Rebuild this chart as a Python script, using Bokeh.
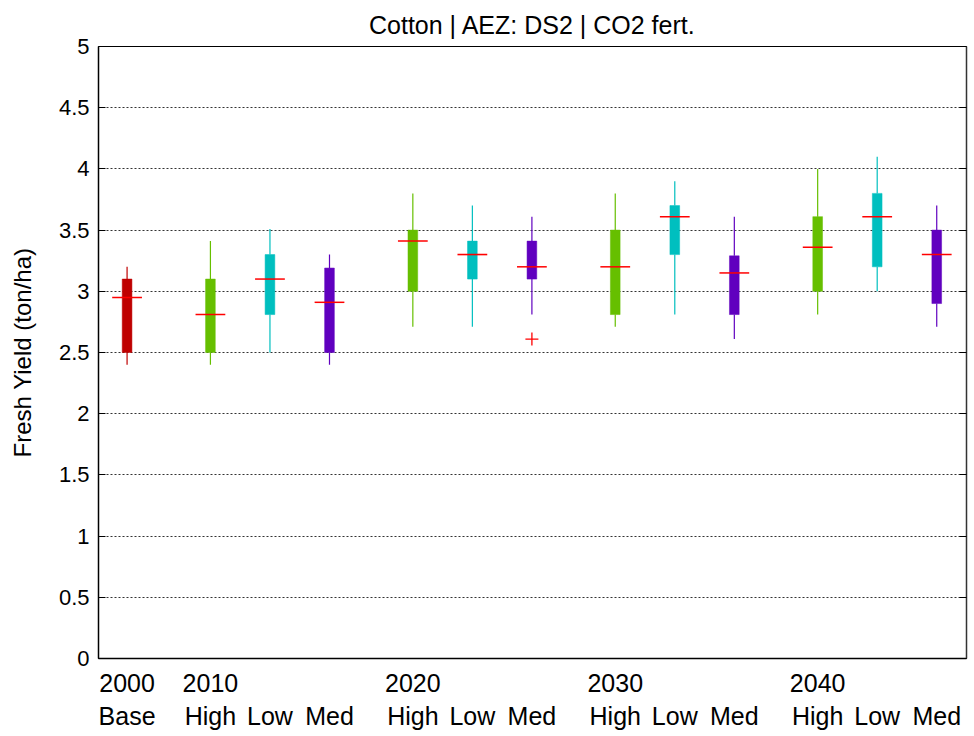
from bokeh.plotting import figure
from bokeh.models import LinearAxis, FixedTicker, Range1d, ColumnDataSource
from bokeh.embed import file_html
from bokeh.resources import INLINE

# ---------------- data ----------------
categories = ["Base", "High", "Low", "Med", "High", "Low", "Med",
              "High", "Low", "Med", "High", "Low", "Med"]
years = ["2000", "2010", "2020", "2030", "2040"]
positions = [1.0, 2.4, 3.4, 4.4, 5.8, 6.8, 7.8, 9.2, 10.2, 11.2, 12.6, 13.6, 14.6]
year_positions = [1.0, 2.4, 5.8, 9.2, 12.6]
whisker_low = [2.40, 2.40, 2.50, 2.40, 2.71, 2.71, 2.81, 2.71, 2.81, 2.61, 2.81, 3.00, 2.71]
q1 = [2.50, 2.50, 2.81, 2.50, 3.00, 3.10, 3.10, 2.81, 3.30, 2.81, 3.00, 3.20, 2.90]
median = [2.95, 2.81, 3.10, 2.91, 3.41, 3.30, 3.20, 3.20, 3.61, 3.15, 3.36, 3.61, 3.30]
q3 = [3.10, 3.10, 3.30, 3.19, 3.50, 3.41, 3.41, 3.50, 3.70, 3.29, 3.61, 3.80, 3.50]
whisker_high = [3.20, 3.41, 3.51, 3.30, 3.80, 3.70, 3.61, 3.80, 3.90, 3.61, 4.00, 4.10, 3.70]
outlier_x = [7.8]
outlier_y = [2.61]
colors = ["#BF0000", "#66BF00", "#00BFBF", "#6000BF", "#66BF00", "#00BFBF", "#6000BF",
          "#66BF00", "#00BFBF", "#6000BF", "#66BF00", "#00BFBF", "#6000BF"]
y_ticks = [0, 0.5, 1, 1.5, 2, 2.5, 3, 3.5, 4, 4.5, 5]
y_tick_labels = ["0", "0.5", "1", "1.5", "2", "2.5", "3", "3.5", "4", "4.5", "5"]

BOX_W = 0.163
MED_HALF = 0.25
FONT = "Liberation Sans"

src = ColumnDataSource(dict(
    x=positions, lo=whisker_low, q1=q1, med=median, q3=q3, hi=whisker_high,
    color=colors,
    mx0=[x - MED_HALF for x in positions], mx1=[x + MED_HALF for x in positions],
))

p = figure(width=974, height=736, output_backend="svg", toolbar_location=None,
           x_range=Range1d(0.52, 15.1), y_range=Range1d(0, 5),
           min_border_left=98, min_border_right=8, min_border_top=46, min_border_bottom=78)

p.background_fill_color = "white"
p.border_fill_color = "white"
p.outline_line_color = "black"
p.outline_line_width = 1

# title
p.title.text = "Cotton | AEZ: DS2 | CO2 fert."
p.title.align = "center"
p.title.text_font = FONT
p.title.text_font_size = "25px"
p.title.text_font_style = "normal"
p.title.text_color = "black"
p.title.standoff = 15

# grids
p.xgrid.visible = False
p.ygrid.ticker = FixedTicker(ticks=y_ticks)
p.ygrid.grid_line_color = "#333333"
p.ygrid.grid_line_dash = "2 2"
p.ygrid.grid_line_width = 1

# y axis (left)
ya = p.yaxis[0]
ya.ticker = FixedTicker(ticks=y_ticks)
ya.major_label_overrides = {t: l for t, l in zip(y_ticks, y_tick_labels)}
ya.major_tick_in = 7
ya.major_tick_out = 0
ya.minor_tick_in = 0
ya.minor_tick_out = 0
ya.major_label_standoff = 9
ya.major_label_text_font = FONT
ya.major_label_text_font_size = "22px"
ya.major_label_text_color = "black"
ya.axis_line_color = "black"
ya.axis_line_width = 1.5
ya.axis_label = "Fresh Yield (ton/ha)"
ya.axis_label_text_font = FONT
ya.axis_label_text_font_size = "24px"
ya.axis_label_text_font_style = "normal"
ya.axis_label_text_color = "black"
ya.axis_label_standoff = 20

# y axis (right, ticks only)
ra = LinearAxis(ticker=FixedTicker(ticks=y_ticks),
                major_label_overrides={t: "" for t in y_ticks})
ra.major_tick_in = 7
ra.major_tick_out = 0
ra.minor_tick_in = 0
ra.minor_tick_out = 0
ra.major_label_standoff = 0
ra.axis_line_color = "#333333"
ra.axis_line_width = 1.5
p.add_layout(ra, "right")

# x axis: years row
xa = p.xaxis[0]
xa.ticker = FixedTicker(ticks=year_positions)
xa.major_label_overrides = {t: l for t, l in zip(year_positions, years)}
xa.major_tick_in = 0
xa.major_tick_out = 0
xa.minor_tick_in = 0
xa.minor_tick_out = 0
xa.major_label_standoff = 15
xa.major_label_text_font = FONT
xa.major_label_text_font_size = "25px"
xa.major_label_text_color = "black"
xa.axis_line_color = "black"
xa.axis_line_width = 1.5

# x axis: category row
ca = LinearAxis(ticker=FixedTicker(ticks=positions),
                major_label_overrides={t: l for t, l in zip(positions, categories)})
ca.major_tick_in = 0
ca.major_tick_out = 0
ca.minor_tick_in = 0
ca.minor_tick_out = 0
ca.axis_line_color = None
ca.major_label_standoff = 7
ca.major_label_text_font = FONT
ca.major_label_text_font_size = "25px"
ca.major_label_text_color = "black"
p.add_layout(ca, "below")

# whiskers
p.segment(x0="x", y0="lo", x1="x", y1="q1", line_color="color", line_width=1.2, source=src)
p.segment(x0="x", y0="q3", x1="x", y1="hi", line_color="color", line_width=1.2, source=src)
# boxes
p.vbar(x="x", width=BOX_W, bottom="q1", top="q3", fill_color="color", line_color="color",
       line_width=0.5, source=src)
# medians
p.segment(x0="mx0", y0="med", x1="mx1", y1="med", line_color="#FF0000", line_width=1.5, source=src)
# outlier
p.scatter(x=outlier_x, y=outlier_y, marker="cross", size=13, line_color="#FF0000", line_width=1.3)

open("out.html", "w").write(file_html(p, INLINE))
